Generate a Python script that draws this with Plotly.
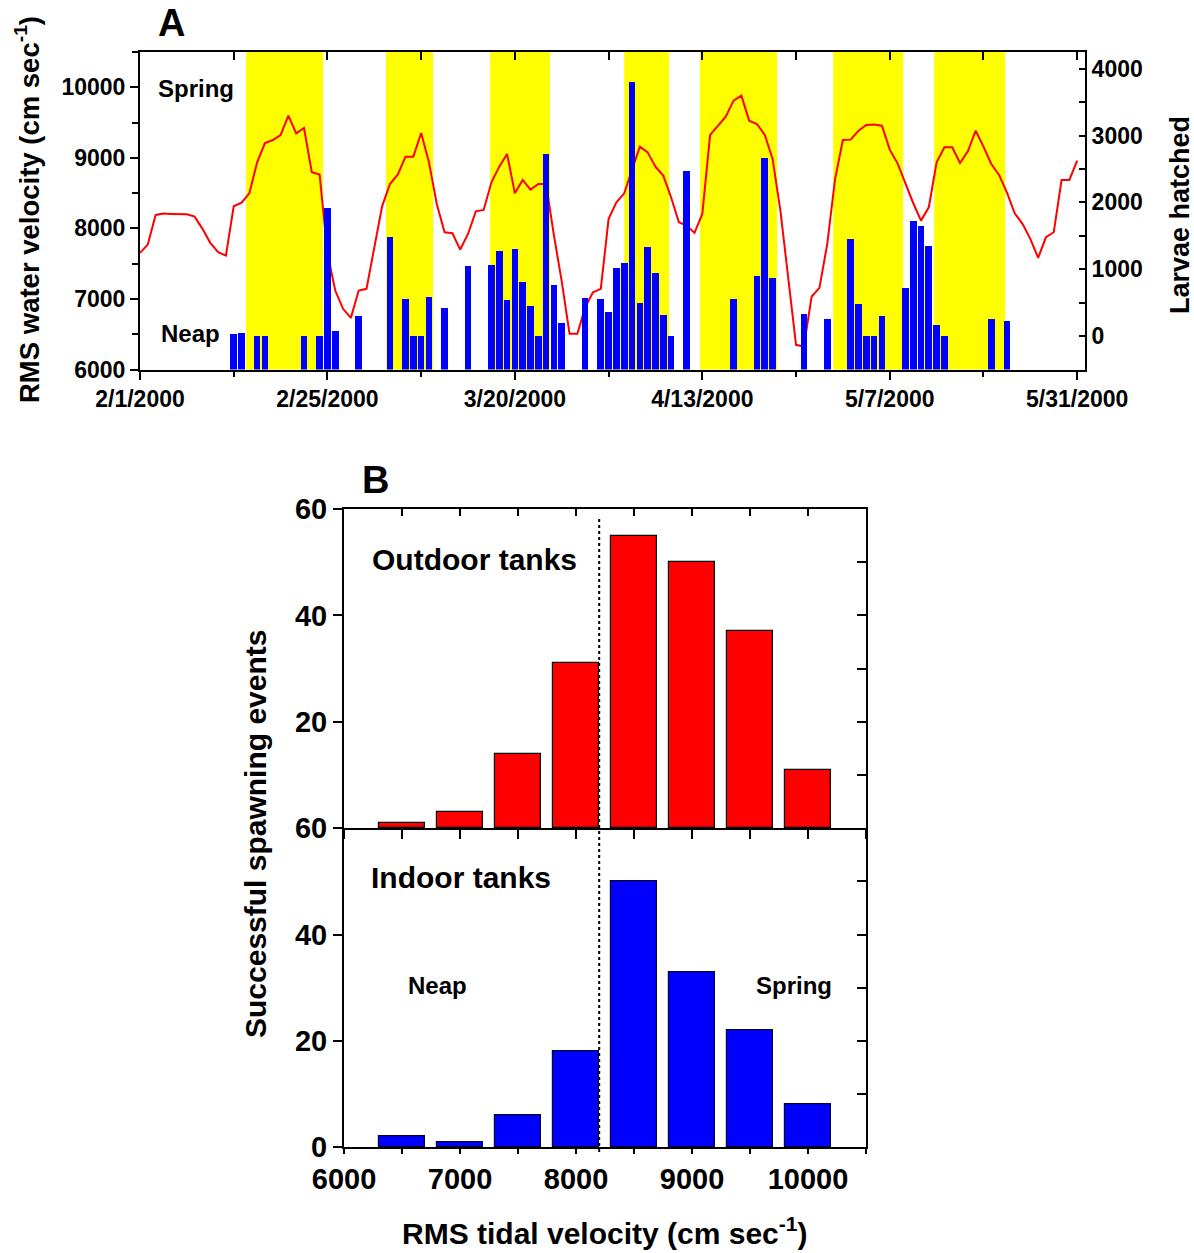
import plotly.graph_objects as go
import pandas as pd

# ---------------- data ----------------
START = "2000-02-01"
END = "2000-06-01"
# daily RMS water velocity (cm/sec), 2/1/2000 .. 5/31/2000
VELOCITY = [
    7653, 7770, 8191, 8210, 8205, 8205, 8200, 8167, 7993, 7795,
    7662, 7615, 8313, 8365, 8497, 8936, 9210, 9252, 9323, 9598,
    9346, 9423, 8795, 8762, 7650, 7119, 6860, 6732, 7119, 7143,
    7732, 8313, 8629, 8762, 9017, 9017, 9352, 8936, 8347, 7945,
    7931, 7700, 7921, 8242, 8261, 8653, 8875, 9054, 8497, 8686,
    8550, 8629, 8629, 7900, 7250, 6505, 6505, 6882, 7095, 7143,
    8135, 8370, 8497, 8819, 9159, 9078, 8875, 8748, 8441, 8087,
    8040, 7936, 8205, 9324, 9456, 9584, 9810, 9881, 9527, 9480,
    9324, 8984, 8252, 7261, 6350, 6326, 7034, 7157, 7780, 8700,
    9252, 9258, 9385, 9465, 9474, 9456, 9116, 8922, 8629, 8360,
    8110, 8299, 8936, 9149, 9149, 8927, 9092, 9385, 9159, 8913,
    8757, 8511, 8214, 8064, 7851, 7582, 7874, 7945, 8686, 8686,
    8960,
]
# larvae hatched: day offset from 2/1/2000 and count
LARVAE_DAY = [12, 13, 15, 16, 21, 23, 24, 25, 28, 32, 34, 35, 36, 37, 39,
              42, 45, 46, 47, 48, 49, 50, 51, 52, 53, 54, 57, 59, 60, 61,
              62, 63, 64, 65, 66, 67, 68, 70, 76, 79, 80, 81, 85, 88, 91,
              92, 93, 94, 95, 98, 99, 100, 101, 102, 103, 109, 111]
LARVAE = [25, 50, 5, 5, 5, 5, 1923, 75, 294, 1480, 548, 5, 5, 583, 413,
          1046, 1061, 1266, 533, 1300, 812, 453, 5, 2720, 762, 190, 573, 553, 363, 1016,
          1091, 3801, 493, 1335, 942, 314, 5, 2471, 548, 892, 2671, 862, 324, 254, 1450,
          478, 5, 5, 294, 717, 1719, 1649, 1350, 160, 5, 249, 229]
# spring-tide periods (yellow bands)
SPRING_START = ["2000-02-14 14:00", "2000-03-03 12:00", "2000-03-16 20:00",
                "2000-04-03 00:00", "2000-04-12 17:00", "2000-04-29 18:00",
                "2000-05-12 16:30"]
SPRING_END = ["2000-02-24 10:30", "2000-03-09 12:45", "2000-03-24 12:15",
              "2000-04-08 18:00", "2000-04-22 14:00", "2000-05-08 17:15",
              "2000-05-21 18:45"]

# panel B histogram
BIN_CENTERS = [6500, 7000, 7500, 8000, 8500, 9000, 9500, 10000]
OUTDOOR = [1, 3, 14, 31, 55, 50, 37, 11]
INDOOR = [2, 1, 6, 18, 50, 33, 22, 8]
THRESHOLD = 8200

# ---------------- derived ----------------
dates = pd.date_range(START, periods=len(VELOCITY), freq="D")
larvae_dates = [pd.Timestamp(START) + pd.Timedelta(days=d) for d in LARVAE_DAY]
DAY_MS = 86400000

W, H = 1194, 1253
FONT = "Liberation Sans, Arial, sans-serif"


def px(x):
    return x / W


def py(y):
    return 1 - y / H


A_X = [px(140), px(1085)]
A_Y = [py(369.5), py(52)]
B_X = [px(344), px(866)]
B_UP = [py(828.3), py(509)]
B_LO = [py(1147.3), py(828.3)]

fig = go.Figure()

# red velocity line
fig.add_trace(go.Scatter(x=dates, y=VELOCITY, mode="lines",
                         line=dict(color="#FF0000", width=2),
                         xaxis="x", yaxis="y", showlegend=False))
# larvae bars (drawn up from the bottom of the axis)
fig.add_trace(go.Bar(x=larvae_dates, y=[v + 500 for v in LARVAE], base=-500,
                     width=0.85 * DAY_MS, marker=dict(color="#0000FF", line=dict(width=0)),
                     xaxis="x", yaxis="y2", showlegend=False))
# dummy for top ticks of panel A
fig.add_trace(go.Scatter(x=[dates[0]], y=[VELOCITY[0]], mode="markers",
                         marker=dict(opacity=0), hoverinfo="skip",
                         xaxis="x5", yaxis="y", showlegend=False))

# panel B bars
fig.add_trace(go.Bar(x=BIN_CENTERS, y=OUTDOOR, width=400,
                     marker=dict(color="#FF0000", line=dict(color="#000000", width=1.2)),
                     xaxis="x2", yaxis="y3", showlegend=False))
fig.add_trace(go.Bar(x=BIN_CENTERS, y=INDOOR, width=400,
                     marker=dict(color="#0000FF", line=dict(color="#000033", width=1.2)),
                     xaxis="x3", yaxis="y4", showlegend=False))
# dummies for mirror ticks in panel B
fig.add_trace(go.Scatter(x=[6000], y=[0], mode="markers", marker=dict(opacity=0),
                         hoverinfo="skip", xaxis="x4", yaxis="y5", showlegend=False))
fig.add_trace(go.Scatter(x=[6000], y=[0], mode="markers", marker=dict(opacity=0),
                         hoverinfo="skip", xaxis="x3", yaxis="y6", showlegend=False))

tickfontA = dict(family=FONT, size=23, color="black", weight="bold")
tickfontB = dict(family=FONT, size=29, color="black", weight="bold")
axline = dict(showline=True, linecolor="black", linewidth=2, showgrid=False,
              zeroline=False, tickcolor="black", tickwidth=2, automargin=False)

fig.update_layout(
    width=W, height=H, margin=dict(l=0, r=0, t=0, b=0, autoexpand=False),
    plot_bgcolor="white", paper_bgcolor="white", bargap=0, barmode="overlay",
    xaxis=dict(domain=A_X, anchor="y", type="date", range=[START, END],
               tick0=START, dtick=24 * DAY_MS, tickformat="%-m/%-d/%Y",
               ticks="outside", ticklen=8, tickfont=tickfontA,
               minor=dict(dtick=12 * DAY_MS, tick0=START, ticks="outside",
                          ticklen=5, tickcolor="black", tickwidth=2),
               **axline),
    xaxis5=dict(overlaying="x", anchor="y", side="top", type="date",
                range=[START, END], tick0=START, dtick=12 * DAY_MS,
                ticks="inside", ticklen=8, showticklabels=False, **axline),
    yaxis=dict(domain=A_Y, anchor="x", range=[6000, 10500], dtick=1000,
               tickformat="d", ticks="outside", ticklen=8, tickfont=tickfontA,
               minor=dict(dtick=500, ticks="outside", ticklen=6,
                          tickcolor="black", tickwidth=2),
               **axline),
    yaxis2=dict(overlaying="y", anchor="x", side="right", range=[-500, 4250],
                tick0=0, dtick=1000, tickformat="d", ticks="inside", ticklen=6,
                tickfont=tickfontA,
                minor=dict(dtick=500, ticks="inside", ticklen=6,
                           tickcolor="black", tickwidth=2),
                **axline),
    # panel B upper
    xaxis2=dict(domain=B_X, anchor="y3", range=[6000, 10500], dtick=500,
                ticks="outside", ticklen=9, showticklabels=False, **axline),
    xaxis4=dict(overlaying="x2", anchor="y3", side="top", range=[6000, 10500],
                dtick=500, ticks="inside", ticklen=7, showticklabels=False, **axline),
    yaxis3=dict(domain=B_UP, anchor="x2", range=[0, 60], tickvals=[20, 40, 60],
                ticks="outside", ticklen=9, tickfont=tickfontB, **axline),
    yaxis5=dict(overlaying="y3", anchor="x2", side="right", range=[0, 60],
                dtick=10, ticks="inside", ticklen=9, showticklabels=False, **axline),
    # panel B lower
    xaxis3=dict(domain=B_X, anchor="y4", range=[6000, 10500], dtick=1000,
                tickformat="d", ticks="outside", ticklen=5, tickfont=tickfontB,
                minor=dict(dtick=500, ticks="outside", ticklen=5,
                           tickcolor="black", tickwidth=2),
                **axline),
    yaxis4=dict(domain=B_LO, anchor="x3", range=[0, 60], tickvals=[0, 20, 40, 60],
                ticks="outside", ticklen=9, tickfont=tickfontB, **axline),
    yaxis6=dict(overlaying="y4", anchor="x3", side="right", range=[0, 60],
                dtick=10, ticks="inside", ticklen=9, showticklabels=False, **axline),
)

# spring-tide bands
for s, e in zip(SPRING_START, SPRING_END):
    fig.add_shape(type="rect", xref="x", yref="y domain", x0=s, x1=e, y0=0, y1=1,
                  fillcolor="#FFFF00", line=dict(width=0), layer="below")

# threshold dotted line across both B panels
fig.add_shape(type="line", xref="x2", yref="paper", x0=THRESHOLD, x1=THRESHOLD,
              y0=py(1152), y1=py(519), line=dict(color="black", width=2, dash="dot"))


def ann(text, x, y, size, angle=0):
    fig.add_annotation(text=text, x=px(x), y=py(y), xref="paper", yref="paper",
                       showarrow=False, xanchor="center", yanchor="middle",
                       textangle=angle,
                       font=dict(family=FONT, size=size, color="black", weight="bold"))


ann("A", 171, 23, 38)
ann("Spring", 196, 89, 24)
ann("Neap", 190, 334, 24)
ann("RMS water velocity (cm sec<sup>-1</sup>)", 28, 210, 27.5, -90)
ann("Larvae hatched", 1180, 215, 27, -90)
ann("B", 375, 480, 38)
ann("Outdoor tanks", 474, 559, 30)
ann("Indoor tanks", 461, 877, 30)
ann("Neap", 437, 985, 24)
ann("Spring", 794, 985, 24)
ann("Successful spawning events", 255, 834, 30, -90)
ann("RMS tidal velocity (cm sec<sup>-1</sup>)", 605, 1231, 30)

fig.write_html(
    "out.html",
    config={"displayModeBar": False},
    post_script="document.body.style.margin='0';document.body.style.overflow='hidden';",
)
